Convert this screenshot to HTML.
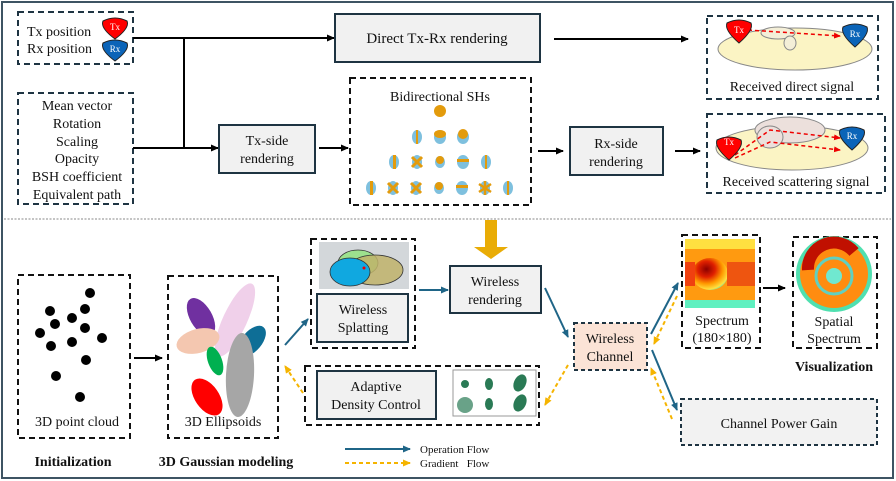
<!DOCTYPE html>
<html><head><meta charset="utf-8"><style>
html,body{margin:0;padding:0;background:#fff}
svg{display:block}
text{font-family:"Liberation Serif",serif;fill:#111}
</style></head><body>
<svg width="896" height="481" viewBox="0 0 896 481" xmlns="http://www.w3.org/2000/svg">
<defs>
<marker id="ak" markerWidth="8" markerHeight="8" refX="7" refY="4" orient="auto" markerUnits="userSpaceOnUse"><path d="M0,0.5 L8,4 L0,7.5z" fill="#000"/></marker>
<marker id="ab" markerWidth="8" markerHeight="8" refX="7" refY="4" orient="auto" markerUnits="userSpaceOnUse"><path d="M0,0.5 L8,4 L0,7.5z" fill="#1f6587"/></marker>
<marker id="ao" markerWidth="8" markerHeight="8" refX="7" refY="4" orient="auto" markerUnits="userSpaceOnUse"><path d="M0,0.5 L8,4 L0,7.5z" fill="#f5b400"/></marker>
<marker id="ar" markerWidth="7" markerHeight="7" refX="6" refY="3.5" orient="auto" markerUnits="userSpaceOnUse"><path d="M0,0.5 L7,3.5 L0,6.5z" fill="#e00"/></marker>
<radialGradient id="sp" cx="0.4" cy="0.35" r="0.7"><stop offset="0" stop-color="#8b0000"/><stop offset="0.35" stop-color="#e02000"/><stop offset="0.65" stop-color="#ff9a00"/><stop offset="0.9" stop-color="#ffe040"/><stop offset="1" stop-color="#60e0b0"/></radialGradient>
</defs>
<rect x="2" y="2" width="891" height="476" fill="none" stroke="#3e5463" stroke-width="2"/>
<line x1="4" y1="219" x2="891" y2="219" stroke="#888" stroke-dasharray="2,1.5"/>

<!-- top-left boxes -->
<rect x="18" y="12" width="115" height="52" fill="none" stroke="#1e3442" stroke-width="2" stroke-dasharray="6,4"/>
<text x="27" y="36" font-size="14">Tx position</text>
<text x="27" y="53" font-size="14">Rx position</text>
<path d="M103,21 q12,-6 24,0 q3,7 -12,18 q-15,-11 -12,-18z" fill="#f00" stroke="#222"/>
<text x="115" y="30" font-size="9" text-anchor="middle" style="fill:#fff">Tx</text>
<path d="M103,43 q12,-6 24,0 q3,7 -12,18 q-15,-11 -12,-18z" fill="#0b64b8" stroke="#222"/>
<text x="115" y="52" font-size="9" text-anchor="middle" style="fill:#fff">Rx</text>

<rect x="18" y="93" width="115" height="111" fill="none" stroke="#1e3442" stroke-width="2" stroke-dasharray="6,4"/>
<g font-size="14" text-anchor="middle">
<text x="77" y="110">Mean vector</text><text x="77" y="128">Rotation</text><text x="77" y="146">Scaling</text>
<text x="77" y="163">Opacity</text><text x="77" y="181">BSH coefficient</text><text x="77" y="199">Equivalent path</text></g>

<g stroke="#000" stroke-width="2" fill="none">
<line x1="133" y1="38" x2="334" y2="38" marker-end="url(#ak)"/>
<line x1="184" y1="38" x2="184" y2="148"/>
<line x1="133" y1="148" x2="218" y2="148" marker-end="url(#ak)"/>
<line x1="554" y1="39" x2="688" y2="39" marker-end="url(#ak)"/>
<line x1="319" y1="148" x2="348" y2="148" marker-end="url(#ak)"/>
<line x1="538" y1="151" x2="563" y2="151" marker-end="url(#ak)"/>
<line x1="675" y1="151" x2="700" y2="151" marker-end="url(#ak)"/>
<line x1="763" y1="288" x2="785" y2="288" marker-end="url(#ak)"/>
<line x1="134" y1="358" x2="162" y2="358" marker-end="url(#ak)"/>
</g>

<rect x="335" y="14" width="205" height="48" fill="#f1f1f1" stroke="#1e3442" stroke-width="2"/>
<text x="437" y="43" font-size="15" text-anchor="middle">Direct Tx-Rx rendering</text>

<rect x="219" y="125" width="96" height="48" fill="#f1f1f1" stroke="#1e3442" stroke-width="2"/>
<text x="267" y="145" font-size="14" text-anchor="middle">Tx-side</text>
<text x="267" y="163" font-size="14" text-anchor="middle">rendering</text>

<rect x="350" y="78" width="181" height="127" fill="none" stroke="#111" stroke-width="2" stroke-dasharray="6,4"/>
<text x="440" y="101" font-size="14" text-anchor="middle">Bidirectional SHs</text>
<g>
<circle cx="440" cy="111" r="6" fill="#e39b0c"/>
<g fill="#7ec0de"><ellipse cx="417" cy="137" rx="5" ry="7"/><ellipse cx="440" cy="137" rx="6" ry="7"/><ellipse cx="463" cy="137" rx="6" ry="7"/>
<ellipse cx="394" cy="162" rx="5" ry="7"/><ellipse cx="417" cy="162" rx="5" ry="7"/><ellipse cx="440" cy="162" rx="5" ry="6"/><ellipse cx="463" cy="162" rx="6" ry="7"/><ellipse cx="486" cy="162" rx="5" ry="7"/>
<ellipse cx="371" cy="188" rx="5" ry="7"/><ellipse cx="393" cy="188" rx="5" ry="7"/><ellipse cx="416" cy="188" rx="5" ry="7"/><ellipse cx="439" cy="188" rx="5" ry="6"/><ellipse cx="462" cy="188" rx="6" ry="7"/><ellipse cx="485" cy="188" rx="5" ry="7"/><ellipse cx="508" cy="188" rx="5" ry="7"/></g>
<g fill="#e39b0c"><rect x="416" y="130" width="2" height="14"/><ellipse cx="440" cy="134" rx="6" ry="4"/><circle cx="463" cy="134" r="5"/>
<rect x="393" y="155" width="3" height="14"/><path d="M412,157 l10,10 M422,157 l-10,10" stroke="#e39b0c" stroke-width="3"/><circle cx="440" cy="160" r="4"/><rect x="457" y="159" width="12" height="3"/><rect x="485" y="155" width="2" height="14"/>
<rect x="370" y="181" width="3" height="14"/><path d="M388,183 l10,10 M398,183 l-10,10" stroke="#e39b0c" stroke-width="3"/><path d="M411,183 l10,10 M421,183 l-10,10" stroke="#e39b0c" stroke-width="3"/><circle cx="439" cy="186" r="4"/><rect x="456" y="185" width="12" height="3"/><path d="M485,181 v14 M479,184 l12,8 M491,184 l-12,8" stroke="#e39b0c" stroke-width="2.5"/><rect x="507" y="181" width="2" height="14"/></g>
</g>

<rect x="570" y="127" width="93" height="48" fill="#f1f1f1" stroke="#1e3442" stroke-width="2"/>
<text x="616" y="148" font-size="14" text-anchor="middle">Rx-side</text>
<text x="616" y="166" font-size="14" text-anchor="middle">rendering</text>

<!-- received direct -->
<rect x="707" y="16" width="171" height="83" fill="none" stroke="#1e3442" stroke-width="2" stroke-dasharray="6,4"/>
<ellipse cx="795" cy="49" rx="77" ry="21" fill="#fbf4c4" stroke="#888"/>
<ellipse cx="778" cy="33" rx="17" ry="6" fill="#f4efd8" stroke="#888"/>
<ellipse cx="790" cy="43" rx="6" ry="7" fill="#f4efd8" stroke="#888"/>
<line x1="748" y1="30" x2="840" y2="36" stroke="#e00" stroke-width="1.5" stroke-dasharray="4,3" marker-end="url(#ar)"/>
<path d="M727,23 q12,-6 24,0 q3,7 -12,20 q-15,-13 -12,-20z" fill="#f00" stroke="#222"/>
<text x="739" y="33" font-size="9" text-anchor="middle" style="fill:#fff">Tx</text>
<path d="M843,27 q12,-6 24,0 q3,7 -12,20 q-15,-13 -12,-20z" fill="#0b64b8" stroke="#222"/>
<text x="855" y="37" font-size="9" text-anchor="middle" style="fill:#fff">Rx</text>
<text x="792" y="91" font-size="14" text-anchor="middle">Received direct signal</text>

<!-- received scattering -->
<rect x="707" y="114" width="178" height="79" fill="none" stroke="#1e3442" stroke-width="2" stroke-dasharray="6,4"/>
<ellipse cx="792" cy="148" rx="76" ry="22" fill="#fbf4c4" stroke="#888"/>
<ellipse cx="790" cy="130" rx="35" ry="13" fill="#ece0dc" stroke="#888"/>
<ellipse cx="770" cy="137" rx="13" ry="11" fill="#ece0dc" stroke="#888"/>
<g stroke="#e00" stroke-width="1.5" stroke-dasharray="4,3" fill="none">
<path d="M735,155 L770,130 L840,138" marker-end="url(#ar)"/>
<path d="M735,158 L770,142 L840,150" marker-end="url(#ar)"/></g>
<path d="M717,140 q12,-6 24,0 q3,7 -12,20 q-15,-13 -12,-20z" fill="#f00" stroke="#222"/>
<text x="729" y="145" font-size="9" text-anchor="middle" style="fill:#fff">Tx</text>
<path d="M840,130 q12,-6 24,0 q3,7 -12,20 q-15,-13 -12,-20z" fill="#0b64b8" stroke="#222"/>
<text x="852" y="139" font-size="9" text-anchor="middle" style="fill:#fff">Rx</text>
<text x="796" y="186" font-size="14" text-anchor="middle">Received scattering signal</text>

<!-- orange big arrow -->
<path d="M485,220 h12 v27 h11 l-17,12 l-17,-12 h11z" fill="#e9ac06"/>

<!-- bottom -->
<rect x="18" y="275" width="112" height="163" fill="none" stroke="#111" stroke-width="2" stroke-dasharray="6,4"/>
<g fill="#000">
<circle cx="90" cy="293" r="5"/><circle cx="85" cy="309" r="5"/><circle cx="50" cy="311" r="5"/><circle cx="72" cy="318" r="5"/><circle cx="55" cy="324" r="5"/><circle cx="85" cy="328" r="5"/><circle cx="40" cy="333" r="5"/><circle cx="102" cy="338" r="5"/><circle cx="72" cy="342" r="5"/><circle cx="51" cy="346" r="5"/><circle cx="86" cy="360" r="5"/><circle cx="56" cy="376" r="5"/><circle cx="80" cy="397" r="5"/></g>
<text x="77" y="426" font-size="14" text-anchor="middle">3D point cloud</text>
<text x="73" y="466" font-size="14" font-weight="bold" text-anchor="middle">Initialization</text>

<rect x="168" y="276" width="110" height="162" fill="none" stroke="#111" stroke-width="2" stroke-dasharray="6,4"/>
<ellipse cx="235" cy="320" rx="12" ry="40" transform="rotate(25 235 320)" fill="#f0d0ea"/>
<ellipse cx="201" cy="317" rx="11" ry="21" transform="rotate(-30 201 317)" fill="#7030a0"/>
<ellipse cx="198" cy="341" rx="22" ry="12" transform="rotate(-15 198 341)" fill="#f4c7b0"/>
<ellipse cx="252" cy="341" rx="10" ry="18" transform="rotate(40 252 341)" fill="#0e6e96"/>
<ellipse cx="215" cy="361" rx="7" ry="15" transform="rotate(-20 215 361)" fill="#00b050"/>
<ellipse cx="207" cy="397" rx="12" ry="21" transform="rotate(-35 207 397)" fill="#f00"/>
<ellipse cx="240" cy="375" rx="14" ry="42" transform="rotate(3 240 375)" fill="#a6a6a6"/>
<text x="223" y="426" font-size="14" text-anchor="middle">3D Ellipsoids</text>
<text x="226" y="466" font-size="14" font-weight="bold" text-anchor="middle">3D Gaussian modeling</text>

<line x1="285" y1="345" x2="308" y2="319" stroke="#1f6587" stroke-width="2" marker-end="url(#ab)"/>
<line x1="303" y1="393" x2="285" y2="366" stroke="#f5b400" stroke-width="2" stroke-dasharray="4,3" marker-end="url(#ao)"/>

<rect x="311" y="239" width="104" height="109" fill="none" stroke="#111" stroke-width="2" stroke-dasharray="6,4"/>
<rect x="319" y="242" width="90" height="47" fill="#d3d7da"/>
<ellipse cx="358" cy="263" rx="20" ry="13" fill="#9de18e" stroke="#333" stroke-width="0.8"/>
<ellipse cx="375" cy="270" rx="28" ry="15" fill="#bfb36a" fill-opacity="0.85" stroke="#333" stroke-width="0.8"/>
<ellipse cx="350" cy="272" rx="20" ry="14" fill="#10a8e0" stroke="#333" stroke-width="0.8"/>
<circle cx="364" cy="268" r="1.5" fill="#e00"/>
<rect x="317" y="294" width="91" height="48" fill="#f1f1f1" stroke="#1e3442" stroke-width="2"/>
<text x="363" y="314" font-size="14" text-anchor="middle">Wireless</text>
<text x="363" y="332" font-size="14" text-anchor="middle">Splatting</text>

<line x1="419" y1="290" x2="448" y2="290" stroke="#1f6587" stroke-width="2" marker-end="url(#ab)"/>
<rect x="450" y="266" width="91" height="47" fill="#f1f1f1" stroke="#1e3442" stroke-width="2"/>
<text x="495" y="286" font-size="14" text-anchor="middle">Wireless</text>
<text x="495" y="304" font-size="14" text-anchor="middle">rendering</text>

<line x1="545" y1="288" x2="568" y2="337" stroke="#1f6587" stroke-width="2" marker-end="url(#ab)"/>
<rect x="574" y="323" width="73" height="47" fill="#fbe3d6" stroke="#1e3442" stroke-width="2" stroke-dasharray="4,3"/>
<text x="610" y="343" font-size="14" text-anchor="middle">Wireless</text>
<text x="610" y="361" font-size="14" text-anchor="middle">Channel</text>

<line x1="651" y1="334" x2="678" y2="283" stroke="#1f6587" stroke-width="2" marker-end="url(#ab)"/>
<line x1="677" y1="296" x2="654" y2="344" stroke="#f5b400" stroke-width="2" stroke-dasharray="4,3" marker-end="url(#ao)"/>
<line x1="652" y1="350" x2="677" y2="410" stroke="#1f6587" stroke-width="2" marker-end="url(#ab)"/>
<line x1="672" y1="419" x2="651" y2="368" stroke="#f5b400" stroke-width="2" stroke-dasharray="4,3" marker-end="url(#ao)"/>
<line x1="568" y1="365" x2="545" y2="405" stroke="#f5b400" stroke-width="2" stroke-dasharray="4,3" marker-end="url(#ao)"/>

<rect x="305" y="366" width="234" height="59" fill="none" stroke="#111" stroke-width="2" stroke-dasharray="6,4"/>
<rect x="317" y="371" width="119" height="48" fill="#f1f1f1" stroke="#1e3442" stroke-width="2"/>
<text x="376" y="391" font-size="14" text-anchor="middle">Adaptive</text>
<text x="376" y="409" font-size="14" text-anchor="middle">Density Control</text>
<rect x="453" y="370" width="83" height="46" fill="#fff" stroke="#999"/>
<g fill="#2a7a55">
<circle cx="465" cy="384" r="4"/><ellipse cx="489" cy="384" rx="4" ry="6"/><ellipse cx="520" cy="383" rx="6" ry="9" transform="rotate(25 520 383)"/>
<circle cx="465" cy="405" r="8" fill-opacity="0.7"/><ellipse cx="489" cy="404" rx="4" ry="6"/><ellipse cx="520" cy="403" rx="6" ry="9" transform="rotate(25 520 403)"/></g>

<line x1="345" y1="449" x2="410" y2="449" stroke="#1f6587" stroke-width="2" marker-end="url(#ab)"/>
<line x1="345" y1="463" x2="410" y2="463" stroke="#f5b400" stroke-width="2" stroke-dasharray="4,3" marker-end="url(#ao)"/>
<text x="420" y="453" font-size="11">Operation Flow</text>
<text x="420" y="467" font-size="11">Gradient &#160; Flow</text>

<rect x="682" y="235" width="78" height="113" fill="none" stroke="#111" stroke-width="2" stroke-dasharray="6,4"/>
<rect x="685" y="239" width="70" height="69" fill="#ff9a10"/>
<rect x="685" y="239" width="70" height="10" fill="#ffe040"/>
<rect x="685" y="300" width="70" height="8" fill="#60f0c0"/>
<ellipse cx="710" cy="274" rx="18" ry="16" fill="url(#sp)"/>
<rect x="685" y="262" width="10" height="24" fill="#f04010"/>
<rect x="727" y="262" width="28" height="24" fill="#ee5510"/>
<text x="722" y="325" font-size="14" text-anchor="middle">Spectrum</text>
<text x="722" y="342" font-size="14" text-anchor="middle">(180×180)</text>

<rect x="793" y="237" width="84" height="111" fill="none" stroke="#111" stroke-width="2" stroke-dasharray="6,4"/>
<circle cx="834" cy="274" r="38" fill="#50e0b0"/>
<circle cx="834" cy="274" r="34" fill="#ff8c10"/>
<path d="M808,270 a26,26 0 0 1 46,-18" stroke="#c01000" stroke-width="12" fill="none"/>
<circle cx="834" cy="276" r="18" fill="none" stroke="#60d0c0" stroke-width="3"/>
<circle cx="834" cy="276" r="8" fill="#70e8d0"/>
<text x="834" y="326" font-size="14" text-anchor="middle">Spatial</text>
<text x="834" y="343" font-size="14" text-anchor="middle">Spectrum</text>
<text x="834" y="371" font-size="14" font-weight="bold" text-anchor="middle">Visualization</text>

<rect x="681" y="399" width="196" height="46" fill="#f2f2f2" stroke="#1e3442" stroke-width="2" stroke-dasharray="4,3"/>
<text x="779" y="428" font-size="14" text-anchor="middle">Channel Power Gain</text>
</svg>
</body></html>
